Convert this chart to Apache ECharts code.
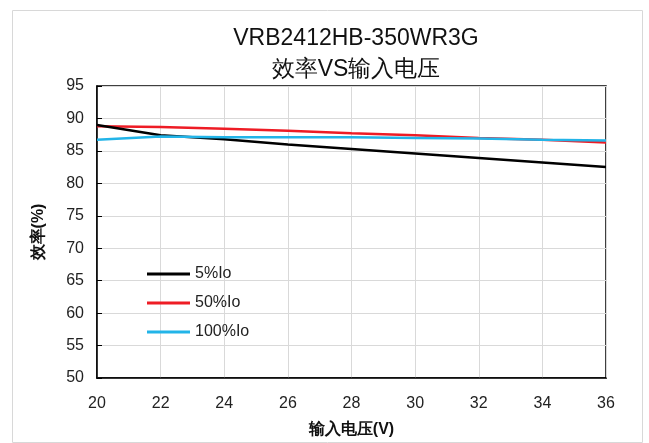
<!DOCTYPE html>
<html><head><meta charset="utf-8">
<script src="https://cdn.jsdelivr.net/npm/echarts@6/dist/echarts.min.js"></script>
<style>html,body{margin:0;padding:0;background:#fff}#c{width:649px;height:443px}</style>
</head><body><div id="c"></div>
<script>
const voltages = [20, 22, 24, 26, 28, 30, 32, 34, 36];
const eff5 = [89.0, 87.4, 86.8, 86.0, 85.3, 84.6, 83.9, 83.2, 82.5];
const eff50 = [88.8, 88.7, 88.4, 88.1, 87.7, 87.4, 87.0, 86.7, 86.3];
const eff100 = [86.7, 87.2, 87.1, 87.1, 87.1, 87.0, 86.9, 86.7, 86.6];
const seriesNames = ['5%Io', '50%Io', '100%Io'];
const colors = ['#000000', '#ee1c25', '#22b4e8'];
const pair = arr => voltages.map((v, i) => [v, arr[i]]);
const font = 'Liberation Sans, DejaVu Sans, sans-serif';
const chart = echarts.init(document.getElementById('c'));
chart.setOption({
  animation: false,
  graphic: [{type: 'rect', left: 10, top: 8, shape: {width: 630, height: 432}, style: {fill: 'none', stroke: '#d8d8d8', lineWidth: 1}}],
  title: {
    text: 'VRB2412HB-350WR3G\n效率VS输入电压',
    left: 351, textAlign: 'center', top: 18,
    textStyle: {fontFamily: font, fontSize: 23, fontWeight: 'normal', color: '#111', lineHeight: 31}
  },
  legend: {
    orient: 'vertical', left: 147, top: 266, itemGap: 13, padding: 0,
    itemWidth: 43, itemHeight: 3, icon: 'rect',
    textStyle: {fontFamily: font, fontSize: 16, color: '#222'},
    data: seriesNames
  },
  grid: {left: 97, right: 43, top: 86, bottom: 65, show: true, borderColor: '#000', borderWidth: 1.5},
  xAxis: {
    type: 'value', min: 20, max: 36, interval: 2,
    name: '输入电压(V)', nameLocation: 'middle', nameGap: 44,
    nameTextStyle: {fontFamily: font, fontSize: 16, fontWeight: 'bold', color: '#111'},
    axisLine: {lineStyle: {color: '#000', width: 1.5}},
    axisTick: {show: false},
    axisLabel: {fontFamily: font, fontSize: 16, color: '#222', margin: 18},
    splitLine: {show: true, lineStyle: {color: '#d9d9d9', width: 1}}
  },
  yAxis: {
    type: 'value', min: 50, max: 95, interval: 5,
    name: '效率(%)', nameLocation: 'middle', nameGap: 50, nameRotate: 90,
    nameTextStyle: {fontFamily: font, fontSize: 16, fontWeight: 'bold', color: '#111'},
    axisLine: {show: true, lineStyle: {color: '#000', width: 1.5}},
    axisTick: {show: true, inside: true, length: 5, lineStyle: {color: '#000'}},
    axisLabel: {fontFamily: font, fontSize: 16, color: '#222', margin: 13},
    splitLine: {show: true, lineStyle: {color: '#d9d9d9', width: 1}}
  },
  series: [
    {name: seriesNames[0], type: 'line', data: pair(eff5), showSymbol: false, symbol: 'none', lineStyle: {color: colors[0], width: 2.5}, itemStyle: {color: colors[0]}, z: 3},
    {name: seriesNames[1], type: 'line', data: pair(eff50), showSymbol: false, symbol: 'none', lineStyle: {color: colors[1], width: 2.5}, itemStyle: {color: colors[1]}, z: 2},
    {name: seriesNames[2], type: 'line', data: pair(eff100), showSymbol: false, symbol: 'none', lineStyle: {color: colors[2], width: 2.5}, itemStyle: {color: colors[2]}, z: 4}
  ]
});
</script></body></html>
